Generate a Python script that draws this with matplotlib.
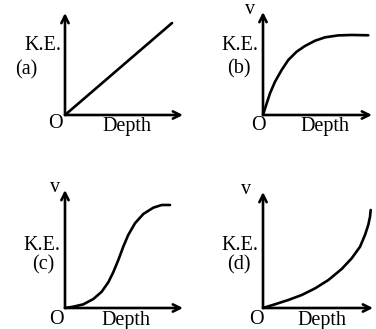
import matplotlib
matplotlib.use("Agg")
import matplotlib.pyplot as plt

FIG_W = 376
FIG_H = 329
DPI = 100

plt.rcParams['font.family'] = ['Liberation Serif', 'DejaVu Serif']

# curve shapes, in units of each panel's axis length (depth, K.E.)
depth_a = [0.0, 0.907]
ke_a = [0.0, 0.902]

depth_b = [0.0, 0.034, 0.064, 0.110, 0.171, 0.232, 0.309, 0.385, 0.477,
           0.569, 0.691, 0.814, 0.966]
ke_b = [0.0, 0.113, 0.210, 0.323, 0.437, 0.534, 0.615, 0.670, 0.721,
        0.754, 0.773, 0.777, 0.774]

depth_c = [0.0, 0.070, 0.155, 0.240, 0.311, 0.367, 0.409, 0.452, 0.494,
           0.536, 0.593, 0.664, 0.748, 0.819, 0.890]
ke_c = [0.0, 0.011, 0.031, 0.076, 0.138, 0.218, 0.303, 0.407, 0.520,
        0.619, 0.718, 0.797, 0.850, 0.873, 0.873]

depth_d = [0.0, 0.109, 0.230, 0.352, 0.473, 0.594, 0.715, 0.806, 0.882,
           0.927, 0.957, 0.973, 0.979]
ke_d = [0.0, 0.032, 0.069, 0.112, 0.169, 0.241, 0.336, 0.428, 0.528,
        0.629, 0.716, 0.787, 0.845]

panel_labels = ["(a)", "(b)", "(c)", "(d)"]

# pixel boxes: origin x, origin y, x-arrow tip, y-arrow tip
PANELS = [
    (65, 115, 183, 13),
    (263, 115, 372, 12),
    (65, 308, 183, 190),
    (263, 308, 373, 192),
]

# pixel centres of the texts in each panel
TEXT_POS = [
    {"ke": (43, 45), "tag": (26, 70), "o": (55, 124), "depth": (127, 127), "v": None},
    {"ke": (240, 46), "tag": (239, 69), "o": (258, 126), "depth": (325, 127), "v": (250, 10)},
    {"ke": (42, 245), "tag": (43, 265), "o": (56, 320), "depth": (126, 320), "v": (55, 188)},
    {"ke": (240, 245), "tag": (239, 265), "o": (256, 320), "depth": (322, 320), "v": (246, 189)},
]

FONT_SIZE = 14.5


def fig_xy(px, py):
    return px / FIG_W, 1 - py / FIG_H


def draw_panel(fig, box, depth, ke, tag, pos):
    ox, oy, tx, ty = box
    left, bottom = fig_xy(ox, oy)
    ax = fig.add_axes([left, bottom, (tx - ox) / FIG_W, (oy - ty) / FIG_H])
    ax.set_xlim(0, 1)
    ax.set_ylim(0, 1)
    ax.axis("off")

    # axes drawn as arrows from the origin
    arrow = dict(arrowstyle="->", lw=1.9, color="black", mutation_scale=13,
                 shrinkA=0, shrinkB=0)
    ax.annotate("", xy=(1, 0), xytext=(0, 0), xycoords="axes fraction",
                arrowprops=arrow)
    ax.annotate("", xy=(0, 1), xytext=(0, 0), xycoords="axes fraction",
                arrowprops=arrow)

    ax.plot(depth, ke, color="black", lw=1.9, clip_on=False,
            solid_capstyle="round", solid_joinstyle="round")

    def put(key, s):
        if pos[key] is None:
            return
        x, y = fig_xy(*pos[key])
        fig.text(x, y, s, ha="center", va="center", fontsize=FONT_SIZE)

    put("ke", "K.E.")
    put("tag", tag)
    put("o", "O")
    put("depth", "Depth")
    put("v", "v")


fig = plt.figure(figsize=(FIG_W / DPI, FIG_H / DPI), dpi=DPI)

curves = [(depth_a, ke_a), (depth_b, ke_b), (depth_c, ke_c), (depth_d, ke_d)]
for box, (d, k), tag, pos in zip(PANELS, curves, panel_labels, TEXT_POS):
    draw_panel(fig, box, d, k, tag, pos)

fig.savefig("out.png", dpi=DPI)
